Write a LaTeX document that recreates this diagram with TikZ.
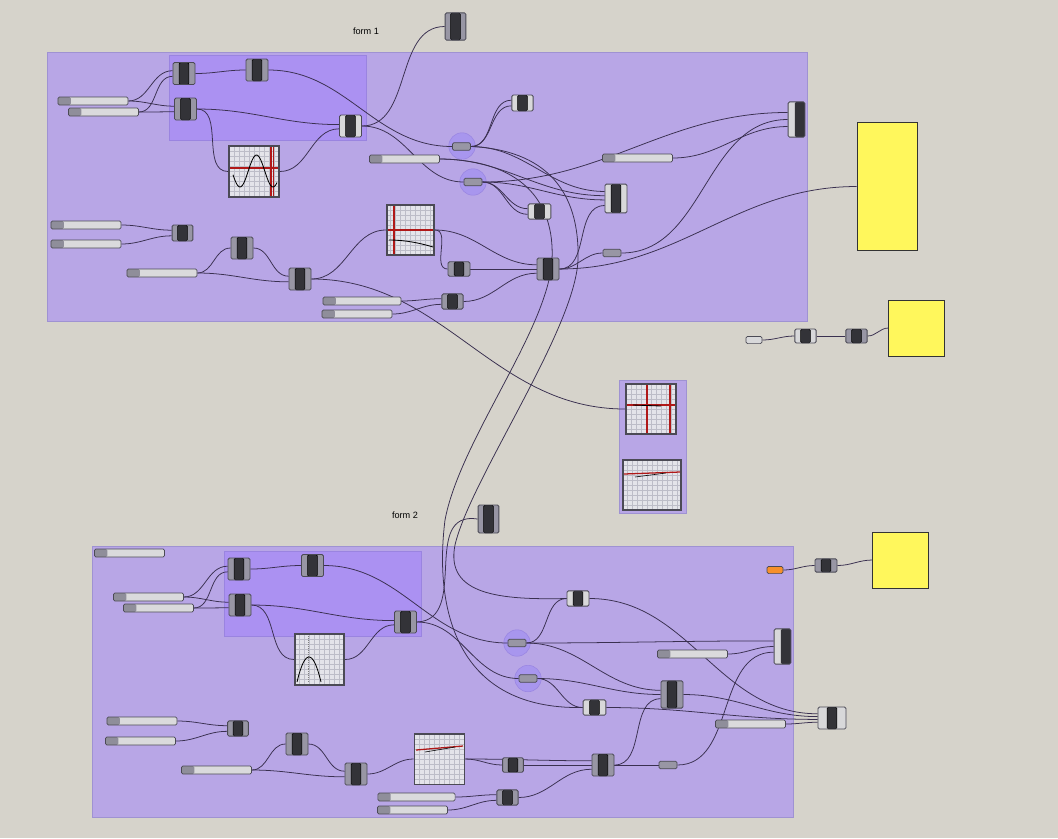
\documentclass[tikz,border=0pt]{standalone}
\usepackage{fontspec}
\setsansfont{Liberation Sans}
\usetikzlibrary{calc}

\definecolor{canvasc}{HTML}{D6D3CB}
\definecolor{grpc}{HTML}{B8A6E6}
\definecolor{grpd}{HTML}{9F92D2}
\definecolor{ingrpc}{HTML}{AB91F2}
\definecolor{ingrpd}{HTML}{9A84E0}
\definecolor{edgec}{HTML}{4B4A55}
\definecolor{sided}{HTML}{9896A4}
\definecolor{sidel}{HTML}{D8D8DA}
\definecolor{corec}{HTML}{333338}
\definecolor{slidel}{HTML}{DADADC}
\definecolor{slided}{HTML}{8F8E9A}
\definecolor{wirec}{HTML}{3A3050}
\definecolor{haloc}{HTML}{A896EE}
\definecolor{halod}{HTML}{9A86E2}
\definecolor{gridbg}{HTML}{E4E4EA}
\definecolor{gridc}{HTML}{BDBDC8}
\definecolor{panelc}{HTML}{FFF75C}
\definecolor{orangec}{HTML}{F7902A}
\definecolor{redc}{HTML}{B01818}

\pgfdeclarelayer{back}
\pgfdeclarelayer{wirelayer}
\pgfsetlayers{back,wirelayer,main}

\tikzset{
  grp/.style={fill=grpc, draw=grpd, line width=0.6pt},
  ingrp/.style={fill=ingrpc, draw=ingrpd, line width=0.5pt},
  comp/.style={rectangle, draw=edgec, line width=0.6pt, rounded corners=1pt,
    minimum width=0.55cm, minimum height=0.55cm, inner sep=0pt,
    path picture={\filldraw[fill=corec, draw=black, line width=0.4pt]
      ([xshift=-0.12cm]path picture bounding box.north) rectangle
      ([xshift=0.12cm]path picture bounding box.south);}},
  compD/.style={comp, fill=sided},
  compL/.style={comp, fill=sidel},
  compR/.style={rectangle, draw=edgec, line width=0.6pt, rounded corners=1pt,
    fill=sidel, minimum width=0.42cm, minimum height=0.88cm, inner sep=0pt,
    path picture={\fill[corec]
      ([xshift=-0.04cm]path picture bounding box.north) rectangle
      (path picture bounding box.south east);}},
  slider/.style={rectangle, draw=edgec, line width=0.5pt, rounded corners=1pt,
    fill=slidel, minimum width=1.75cm, minimum height=0.2cm, inner sep=0pt,
    path picture={\fill[slided] (path picture bounding box.south west)
      rectangle ([xshift=0.32cm]path picture bounding box.north west);}},
  relay/.style={rectangle, draw=edgec, line width=0.5pt, rounded corners=1pt,
    fill=sided, minimum width=0.45cm, minimum height=0.19cm, inner sep=0pt},
  halo/.style={circle, fill=haloc, draw=halod, line width=0.4pt,
    minimum size=0.66cm, inner sep=0pt},
  graph/.style={rectangle, draw=edgec, line width=1.3pt, fill=gridbg,
    minimum width=1.25cm, minimum height=1.27cm, inner sep=0pt,
    path picture={\draw[gridc, line width=0.25pt, step=0.125cm]
      (path picture bounding box.south west) grid
      (path picture bounding box.north east);}},
  panel/.style={rectangle, draw=black!80, line width=0.6pt, fill=panelc, inner sep=0pt},
  lbl/.style={font=\sffamily\fontsize{6.5}{7}\selectfont, text=black, inner sep=0pt},
  wire/.style={draw=wirec, line width=0.55pt, out=0, in=180},
  redax/.style={draw=redc, line width=0.9pt},
  plotc/.style={draw=black, line width=0.6pt}
}

\begin{document}
\begin{tikzpicture}[x=0.025cm, y=-0.025cm]
\useasboundingbox (0,0) rectangle (1058,838);

% canvas and groups
\begin{pgfonlayer}{back}
  \fill[canvasc] (0,0) rectangle (1058,838);
  \draw[grp] (47,52) rectangle (807,321);
  \draw[ingrp] (169,55) rectangle (366,140);
  \draw[grp] (619,380) rectangle (686,513);
  \draw[grp] (92,546) rectangle (793,817);
  \draw[ingrp] (224,551) rectangle (421,636);
  \node[halo] (h1) at (462,146) {};
  \node[halo] (h2) at (473,182) {};
  \node[halo] (h3) at (517,643) {};
  \node[halo] (h4) at (528,678.5) {};
\end{pgfonlayer}

\node[lbl] (f1) at (366,31) {form 1};
\node[lbl] (f2) at (405,515) {form 2};

% form 1
\node[slider] (s1) at (93,101) {};
\node[slider] (s2) at (103.5,112) {};
\node[compD] (c1) at (184,73.5) {};
\node[compD] (c2) at (257,70) {};
\node[compD] (c3) at (185.5,109) {};
\node[compL] (c4) at (350.5,126) {};
\node[graph] (g1) at (254,171.5) {};
\node[compD, minimum width=0.52cm, minimum height=0.68cm] (ctop) at (455.5,26.5) {};
\node[relay] (r1) at (461.5,146.5) {};
\node[relay] (r2) at (473,182) {};
\node[compL, minimum width=0.53cm, minimum height=0.4cm] (c5) at (522.5,103) {};
\node[slider] (s3) at (404.5,159) {};
\node[compL, minimum width=0.57cm, minimum height=0.38cm] (c6) at (539.5,211.5) {};
\node[compL, minimum height=0.72cm] (c7) at (616,198.5) {};
\node[slider] (s4) at (637.5,158) {};
\node[compR] (c8) at (796.5,119.5) {};
\node[relay] (r3) at (612,253) {};
\node[panel, minimum width=1.52cm, minimum height=3.18cm] (P1) at (887.5,186.5) {};
\node[slider] (s5) at (86,225) {};
\node[slider] (s6) at (86,244) {};
\node[compD, minimum width=0.52cm, minimum height=0.4cm] (c9) at (182.5,233) {};
\node[compD] (c10) at (242,248) {};
\node[slider] (s7) at (162,273) {};
\node[compD] (c11) at (300,279) {};
\node[graph, minimum width=1.18cm, minimum height=1.25cm] (g2) at (410.5,230) {};
\node[compD, minimum height=0.36cm] (c12) at (459,269) {};
\node[compD] (c13) at (548,269) {};
\node[compD, minimum width=0.53cm, minimum height=0.38cm] (c14) at (452.5,301.5) {};
\node[slider, minimum width=1.95cm] (s8) at (362,301) {};
\node[slider] (s9) at (357,314) {};

% outside, right
\node[rectangle, draw=edgec, line width=0.5pt, rounded corners=1pt, fill=sidel,
  minimum width=0.4cm, minimum height=0.18cm, inner sep=0pt] (b1) at (754,340) {};
\node[compL, minimum width=0.53cm, minimum height=0.35cm] (c15) at (805.5,336) {};
\node[compD, minimum width=0.53cm, minimum height=0.35cm] (c16) at (856.5,336) {};
\node[panel, minimum width=1.38cm, minimum height=1.4cm] (P2) at (916.5,328) {};

% previews
\node[graph, minimum height=1.25cm] (g3) at (651,409) {};
\node[graph, minimum width=1.45cm, minimum height=1.25cm] (g4) at (652,485) {};

% form 2
\node[compD, minimum width=0.52cm, minimum height=0.7cm] (c17) at (488.5,519) {};
\node[slider] (s10) at (129.5,553) {};
\node[compD] (c18) at (239,569) {};
\node[compD] (c19) at (312.5,565.5) {};
\node[compD] (c20) at (240,605) {};
\node[slider] (s11) at (148.5,597) {};
\node[slider] (s12) at (158.5,608) {};
\node[compD] (c21) at (405.5,622) {};
\node[graph, minimum width=1.23cm] (g5) at (319.5,659.5) {};
\node[rectangle, draw=edgec, line width=0.5pt, rounded corners=1pt, fill=orangec,
  minimum width=0.4cm, minimum height=0.18cm, inner sep=0pt] (o1) at (775,570) {};
\node[compD, minimum height=0.33cm] (c27) at (826,565.5) {};
\node[panel, minimum width=1.38cm, minimum height=1.4cm] (P3) at (900.5,560) {};
\node[compL, minimum height=0.38cm] (c22) at (578,598.5) {};
\node[relay] (r4) at (517,643) {};
\node[relay] (r5) at (528,678.5) {};
\node[compR] (c23) at (782.5,646.5) {};
\node[slider] (s13) at (692.5,654) {};
\node[compD, minimum height=0.68cm] (c24) at (672,694.5) {};
\node[compL, minimum width=0.57cm, minimum height=0.38cm] (c25) at (594.5,707.5) {};
\node[compL, minimum width=0.7cm] (c26) at (832,718) {};
\node[slider] (s14) at (750.5,724) {};
\node[slider] (s15) at (142,721) {};
\node[slider] (s16) at (140.5,741) {};
\node[compD, minimum width=0.52cm, minimum height=0.38cm] (c28) at (238,728.5) {};
\node[compD] (c29) at (297,744) {};
\node[slider] (s17) at (216.5,770) {};
\node[compD] (c30) at (356,774) {};
\node[graph] (g6) at (439.5,759) {};
\node[compD, minimum width=0.52cm, minimum height=0.36cm] (c31) at (513,765) {};
\node[compD] (c32) at (603,765) {};
\node[relay] (r6) at (668,765) {};
\node[compD, minimum width=0.53cm, minimum height=0.38cm] (c33) at (507.5,797.5) {};
\node[slider, minimum width=1.93cm] (s18) at (416.5,797) {};
\node[slider] (s19) at (412.5,810) {};

% graph contents
\draw[redax] (230,168) -- (278,168);
\draw[redax] (271,147) -- (271,196);
\draw[redax, line width=0.6pt] (273.5,147) -- (273.5,196);
\draw[plotc] plot[domain=233:277, samples=45] (\x, {171+16*cos(360*(\x-240)/33)});
\draw[redax] (394,206) -- (394,254);
\draw[redax] (388,230) -- (433,230);
\draw[plotc] (389,240) .. controls (405,240) and (420,243) .. (433,247);
\draw[redax] (647,385) -- (647,433);
\draw[redax] (670,385) -- (670,433);
\draw[redax] (627,405) -- (675,405);
\draw[plotc] (633,405) -- (661,406);
\draw[redax] (624,474) -- (680,472);
\draw[plotc, line width=0.4pt] (635,477) -- (666,473);
\draw[gray, densely dotted] (308,636) -- (308,683);
\draw[plotc] plot[domain=297:321, samples=30] (\x, {682-25*(1-((\x-309)/12)^2)});
\draw[redax] (416,750) -- (463,746);
\draw[plotc, line width=0.4pt] (425,752) -- (455,747);

% wires
\begin{pgfonlayer}{wirelayer}
  \draw[wire] (s1.east) to ([yshift=2pt]c1.west);
  \draw[wire] (s1.east) to ([yshift=2pt]c3.west);
  \draw[wire] (s2.east) to ([yshift=-2pt]c1.west);
  \draw[wire] (s2.east) to ([yshift=-2pt]c3.west);
  \draw[wire] (c1.east) to (c2.west);
  \draw[wire] (c2.east) to (r1.west);
  \draw[wire] (c3.east) to ([yshift=1pt]c4.west);
  \draw[wire] (c3.east) to (g1.west);
  \draw[wire] (g1.east) to ([yshift=-2pt]c4.west);
  \draw[wire] (c4.east) to (ctop.west);
  \draw[wire] (c4.east) to (r2.west);
  \draw[wire] (r1.east) to ([yshift=2pt]c5.west);
  \draw[wire] (r1.east) to ([yshift=-2pt]c5.west);
  \draw[wire] (r1.east) to ([yshift=5pt]c7.west);
  \draw[wire] (s3.east) to ([yshift=2pt]c7.west);
  \draw[wire] (r2.east) to ([yshift=2pt]c6.west);
  \draw[wire] (r2.east) to ([yshift=-2pt]c6.west);
  \draw[wire] (r2.east) to ([yshift=-1pt]c7.west);
  \draw[wire] (r2.east) to ([yshift=5pt]c8.west);
  \draw[wire] (r3.east) to (c8.west);
  \draw[wire] (s4.east) to ([yshift=-5pt]c8.west);
  \draw[wire] (c13.east) to (r3.west);
  \draw[wire] (c13.east) to (P1.west);
  \draw[wire] (c13.east) to ([yshift=-5pt]c7.west);
  \draw[wire] (s5.east) to ([yshift=2pt]c9.west);
  \draw[wire] (s6.east) to ([yshift=-2pt]c9.west);
  \draw[wire] (s7.east) to (c10.west);
  \draw[wire] (s7.east) to ([yshift=-2pt]c11.west);
  \draw[wire] (c10.east) to ([yshift=2pt]c11.west);
  \draw[wire] (c11.east) to (g2.west);
  \draw[wire] (c11.east) to (g3.west);
  \draw[wire] (g2.east) to (c12.west);
  \draw[wire] (g2.east) to ([yshift=3pt]c13.west);
  \draw[wire] (c12.east) to (c13.west);
  \draw[wire] (c14.east) to ([yshift=-3pt]c13.west);
  \draw[wire] (s8.east) to ([yshift=2pt]c14.west);
  \draw[wire] (s9.east) to ([yshift=-2pt]c14.west);
  % between the two forms
  \draw[wirec, line width=0.55pt] (r1.east) .. controls (545,150) and (580,190) .. (578,260)
    .. controls (575,330) and (470,480) .. (455,545)
    .. controls (445,595) and (500,600) .. (c22.west);
  \draw[wirec, line width=0.55pt] (s3.east) .. controls (520,160) and (555,200) .. (552,260)
    .. controls (548,330) and (460,440) .. (445,520)
    .. controls (435,600) and (450,710) .. (c25.west);
  % right
  \draw[wire] (b1.east) to (c15.west);
  \draw[wire] (c15.east) to (c16.west);
  \draw[wire] (c16.east) to (P2.west);
  % form 2
  \draw[wire] (s11.east) to ([yshift=2pt]c18.west);
  \draw[wire] (s11.east) to ([yshift=2pt]c20.west);
  \draw[wire] (s12.east) to ([yshift=-2pt]c18.west);
  \draw[wire] (s12.east) to ([yshift=-2pt]c20.west);
  \draw[wire] (c18.east) to (c19.west);
  \draw[wire] (c19.east) to (r4.west);
  \draw[wire] (c20.east) to ([yshift=1pt]c21.west);
  \draw[wire] (c20.east) to (g5.west);
  \draw[wire] (g5.east) to ([yshift=-2pt]c21.west);
  \draw[wirec, line width=0.55pt] (c21.east) .. controls (470,620) and (420,510) .. (c17.west);
  \draw[wire] (c21.east) to (r5.west);
  \draw[wire] (r4.east) to (c22.west);
  \draw[wire] (r4.east) to ([yshift=4pt]c23.west);
  \draw[wire] (r4.east) to ([yshift=3pt]c24.west);
  \draw[wire] (r5.east) to (c24.west);
  \draw[wire] (r5.east) to (c25.west);
  \draw[wire] (s13.east) to (c23.west);
  \draw[wire] (r6.east) to ([yshift=-4pt]c23.west);
  \draw[wire] (c22.east) to ([yshift=3pt]c26.west);
  \draw[wire] (c24.east) to ([yshift=1pt]c26.west);
  \draw[wire] (c25.east) to ([yshift=-1pt]c26.west);
  \draw[wire] (s14.east) to ([yshift=-3pt]c26.west);
  \draw[wire] (o1.east) to (c27.west);
  \draw[wire] (c27.east) to (P3.west);
  \draw[wire] (s15.east) to ([yshift=2pt]c28.west);
  \draw[wire] (s16.east) to ([yshift=-2pt]c28.west);
  \draw[wire] (s17.east) to (c29.west);
  \draw[wire] (s17.east) to ([yshift=-2pt]c30.west);
  \draw[wire] (c29.east) to ([yshift=2pt]c30.west);
  \draw[wire] (c30.east) to (g6.west);
  \draw[wire] (g6.east) to (c31.west);
  \draw[wire] (g6.east) to ([yshift=3pt]c32.west);
  \draw[wire] (c31.east) to (c32.west);
  \draw[wire] (c33.east) to ([yshift=-3pt]c32.west);
  \draw[wire] (s18.east) to ([yshift=2pt]c33.west);
  \draw[wire] (s19.east) to ([yshift=-2pt]c33.west);
  \draw[wire] (c32.east) to (r6.west);
  \draw[wire] (c32.east) to ([yshift=-3pt]c24.west);
\end{pgfonlayer}

\end{tikzpicture}
\end{document}
